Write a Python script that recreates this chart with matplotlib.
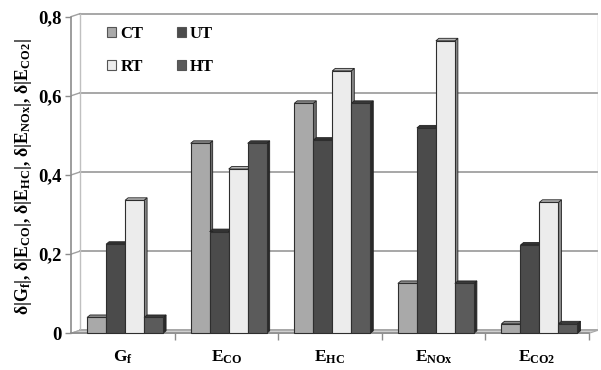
import matplotlib
matplotlib.use("Agg")
import matplotlib.pyplot as plt
from matplotlib.patches import Polygon, Rectangle

# ---- data ----
categories = [r"G$_\mathrm{f}$", r"E$_\mathrm{CO}$", r"E$_\mathrm{HC}$",
              r"E$_\mathrm{NOx}$", r"E$_\mathrm{CO2}$"]
series_names = ["CT", "UT", "RT", "HT"]
ct_values = [0.040, 0.480, 0.581, 0.126, 0.024]
ut_values = [0.225, 0.257, 0.488, 0.519, 0.223]
rt_values = [0.336, 0.415, 0.663, 0.739, 0.331]
ht_values = [0.040, 0.480, 0.581, 0.126, 0.024]
y_ticks = [0, 0.2, 0.4, 0.6, 0.8]
y_tick_labels = ["0", "0,2", "0,4", "0,6", "0,8"]
y_label = (r"δ|G$_\mathrm{f}$|, δ|E$_\mathrm{CO}$|, δ|E$_\mathrm{HC}$|, "
           r"δ|E$_\mathrm{NOx}$|, δ|E$_\mathrm{CO2}$|")

series_values = [ct_values, ut_values, rt_values, ht_values]
front_colors = ["#a9a9a9", "#4b4b4b", "#ececec", "#5b5b5b"]
side_colors = ["#6e6e6e", "#262626", "#8a8a8a", "#2a2a2a"]
top_colors = ["#8a8a8a", "#333333", "#b5b5b5", "#3a3a3a"]

plt.rcParams["font.family"] = ["Liberation Serif", "DejaVu Serif"]
plt.rcParams["font.weight"] = "bold"
plt.rcParams["mathtext.fontset"] = "custom"
plt.rcParams["mathtext.rm"] = "Liberation Serif:bold"
plt.rcParams["mathtext.it"] = "Liberation Serif:bold"
plt.rcParams["mathtext.bf"] = "Liberation Serif:bold"

W, H = 601, 370
fig = plt.figure(figsize=(W / 100, H / 100), dpi=100)

# pixel geometry of the plotting box
px_left, px_right, px_top, px_bottom = 71, 598, 12, 340
x_unit = 103.6      # pixels per category
y_unit = 395.8      # pixels per unit value
y0_px = 333.3       # pixel row of value 0 at the front

ax = fig.add_axes([px_left / W, 1 - px_bottom / H,
                   (px_right - px_left) / W, (px_bottom - px_top) / H])
ax.set_xlim(-0.5, -0.5 + (px_right - px_left) / x_unit)
ax.set_ylim(-(px_bottom - y0_px) / y_unit, (y0_px - px_top) / y_unit)

# depth offsets (back wall and bar depth) in data units
dxb, dyb = 9 / x_unit, 3 / y_unit
dxs, dys = 3 / x_unit, 2.5 / y_unit

grid_c = "#a0a0a0"
axis_c = "#8c8c8c"
n = len(categories)
x_lo, x_hi = -0.5, n - 0.5

# back wall gridlines and left side wall
for v in y_ticks:
    ax.plot([x_lo + dxb, x_hi + dxb], [v + dyb, v + dyb], color=grid_c, lw=1.3, zorder=1)
    ax.plot([x_lo, x_lo + dxb], [v, v + dyb], color=grid_c, lw=1.0, zorder=1)
ax.plot([x_lo + dxb, x_lo + dxb], [dyb, 0.8 + dyb], color="#c0c0c0", lw=1.0, zorder=1)
ax.plot([x_hi + dxb, x_hi + dxb], [dyb, 0.8 + dyb], color="#c0c0c0", lw=1.0, zorder=1)

# floor
ax.add_patch(Polygon([[x_lo, 0], [x_hi, 0], [x_hi + dxb, dyb], [x_lo + dxb, dyb]],
                     closed=True, facecolor="#cfcfcf", edgecolor="#a8a8a8", lw=0.8, zorder=1.5))

# bars with a little depth (side and top faces)
bar_w = 0.1834
cluster_shift = 0.022
for i, vals in enumerate(series_values):
    xs = [c + cluster_shift + (i - 1.5) * bar_w for c in range(n)]
    z = 3 + i
    for x, v in zip(xs, vals):
        xl, xr = x - bar_w / 2, x + bar_w / 2
        ax.add_patch(Polygon([[xr, 0], [xr + dxs, dys], [xr + dxs, v + dys], [xr, v]],
                             closed=True, facecolor=side_colors[i], edgecolor="#222222",
                             lw=0.6, zorder=z))
        ax.add_patch(Polygon([[xl, v], [xr, v], [xr + dxs, v + dys], [xl + dxs, v + dys]],
                             closed=True, facecolor=top_colors[i], edgecolor="#222222",
                             lw=0.6, zorder=z))
    ax.bar(xs, vals, width=bar_w, color=front_colors[i], edgecolor="#2e2e2e",
           linewidth=0.8, zorder=z + 0.1, label=series_names[i])

# axes lines and ticks
for s in ["top", "right"]:
    ax.spines[s].set_visible(False)
ax.spines["left"].set_bounds(0, 0.8)
ax.spines["left"].set_color(axis_c)
ax.spines["left"].set_linewidth(1.2)
ax.spines["bottom"].set_position(("data", 0))
ax.spines["bottom"].set_bounds(x_lo, x_hi)
ax.spines["bottom"].set_color(axis_c)
ax.spines["bottom"].set_linewidth(1.2)
ax.spines["bottom"].set_zorder(2)

ax.set_yticks(y_ticks)
ax.set_yticklabels(y_tick_labels)
ax.tick_params(axis="y", direction="out", length=4, width=1.0, color=axis_c,
               labelsize=13.5, pad=3)
ax.set_xticks(range(n))
ax.set_xticklabels(categories)
ax.set_xticks([c + 0.5 for c in range(n)], minor=True)
ax.tick_params(axis="x", which="major", length=0, labelsize=12.5, pad=11)
ax.tick_params(axis="x", which="minor", direction="out", length=5, width=1.0, color=axis_c)

ax.set_ylabel(y_label, fontsize=12.8, fontweight="bold")
ax.yaxis.set_label_coords(-37 / (px_right - px_left), (px_bottom - 177) / (px_bottom - px_top))

# legend in two columns: CT/UT on the first row, RT/HT on the second
handles = [Rectangle((0, 0), 1, 1, facecolor=front_colors[i], edgecolor="#555555", lw=0.8)
           for i in range(4)]
order = [0, 2, 1, 3]
leg = ax.legend([handles[k] for k in order], [series_names[k] for k in order],
                ncol=2, frameon=False, loc="upper left",
                bbox_to_anchor=((107 - px_left) / (px_right - px_left),
                                1 - (26 - px_top) / (px_bottom - px_top)),
                handlelength=0.55, handleheight=0.55, handletextpad=0.25,
                columnspacing=2.0, labelspacing=1.0, borderaxespad=0, borderpad=0,
                prop={"family": "Liberation Serif", "weight": "bold", "size": 12})

fig.savefig("out.png", dpi=100, facecolor="white")
